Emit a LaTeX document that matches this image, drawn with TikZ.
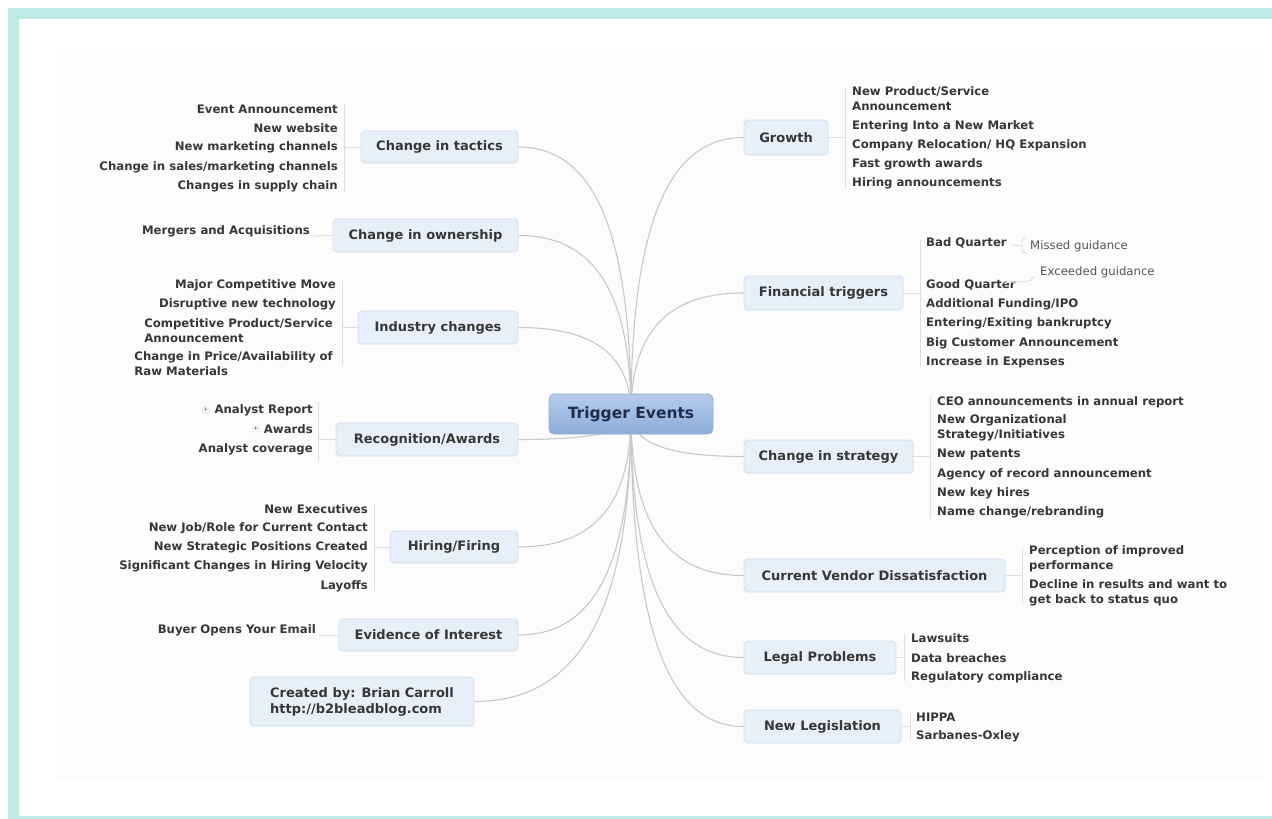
\documentclass[tikz,border=0pt]{standalone}
\usepackage{fontspec}
\setmainfont{DejaVu Sans}
\usetikzlibrary{calc,backgrounds}
\definecolor{teal0}{RGB}{190,234,228}
\definecolor{boxfill}{RGB}{231,239,249}
\definecolor{boxdraw}{RGB}{208,221,238}
\definecolor{txt}{RGB}{55,55,55}
\definecolor{subtxt}{RGB}{85,85,85}
\definecolor{connc}{RGB}{200,200,200}
\definecolor{brkc}{RGB}{222,222,222}
\definecolor{ctop}{RGB}{182,204,236}
\definecolor{cbot}{RGB}{140,172,218}
\definecolor{cdraw}{RGB}{150,175,212}
\definecolor{ctxt}{RGB}{30,45,75}
\definecolor{faint}{RGB}{252,252,252}
\newcommand\leaffont{\fontsize{11.7}{15}\selectfont\bfseries}
\newcommand\mainnfont{\fontsize{13}{16}\selectfont\bfseries}
\newcommand\centerfont{\fontsize{15.5}{18}\selectfont\bfseries}
\newcommand\subfont{\fontsize{11.7}{15}\selectfont}
\newcommand\mmconn[2]{\draw[connline] (#1.center) .. controls ($(#1.center)!0.75!(#1.center|-#2)$) and ($(#2)!0.6!(#1.center|-#2)$) .. (#2);}
\tikzset{
  mainbox/.style={draw=boxdraw, fill=boxfill, rounded corners=4pt, line width=0.8pt,
    text=txt, font=\mainnfont, inner sep=0pt, align=center},
  leafL/.style={anchor=east, inner sep=0pt, text=txt, font=\leaffont, align=left},
  leafR/.style={anchor=west, inner sep=0pt, text=txt, font=\leaffont, align=left},
  subleaf/.style={anchor=west, inner sep=0pt, text=subtxt, font=\subfont},
  connline/.style={draw=connc, line width=1.1pt},
  brkline/.style={draw=brkc, line width=0.9pt, line cap=round},
  plusicon/.style={circle, draw=brkc, line width=0.6pt, minimum size=7pt, inner sep=0pt,
    font=\fontsize{6}{6}\selectfont, text=subtxt}
}
\begin{document}
\begin{tikzpicture}[x=1pt,y=-1pt]
\useasboundingbox (0,0) rectangle (1272,819);

% center
\node[draw=cdraw, top color=ctop, bottom color=cbot, rounded corners=5pt, line width=0.8pt,
  minimum width=164pt, minimum height=40pt, inner sep=0pt, text=ctxt, font=\centerfont]
  (te) at (631,414) {Trigger Events};

% main nodes left
\node[mainbox, minimum width=157pt, minimum height=32pt] (tac) at (439.5,147) {Change in tactics};
\node[mainbox, minimum width=185pt, minimum height=33pt] (own) at (425.5,235.5) {Change in ownership};
\node[mainbox, minimum width=160pt, minimum height=33pt] (ind) at (438,327.5) {Industry changes};
\node[mainbox, minimum width=182pt, minimum height=33pt] (rec) at (427,439.5) {Recognition/Awards};
\node[mainbox, minimum width=128pt, minimum height=32pt] (hir) at (454,547) {Hiring/Firing};
\node[mainbox, minimum width=179pt, minimum height=32pt] (evi) at (428.5,635) {Evidence of Interest};
\node[mainbox, minimum width=224pt, minimum height=49pt, align=left] (cre) at (362,701.5)
  {Created by: Brian Carroll\\http://b2bleadblog.com};
% main nodes right
\node[mainbox, minimum width=84pt, minimum height=35pt] (gro) at (786,137.5) {Growth};
\node[mainbox, minimum width=159pt, minimum height=34pt] (fin) at (823.5,293) {Financial triggers};
\node[mainbox, minimum width=169pt, minimum height=33pt] (str) at (828.5,456.5) {Change in strategy};
\node[mainbox, minimum width=261pt, minimum height=33pt] (ven) at (874.5,575.5) {Current Vendor Dissatisfaction};
\node[mainbox, minimum width=152pt, minimum height=33pt] (leg) at (820,657.5) {Legal Problems};
\node[mainbox, minimum width=157pt, minimum height=33pt] (lgs) at (822.5,726.5) {New Legislation};

% background and connectors from center (behind)
\begin{scope}[on background layer]
\fill[white] (0,0) rectangle (1272,819);
\fill[faint] (57,48) rectangle (1265,779);
\fill[teal0] (8,8) rectangle (1272,19);
\fill[teal0] (8,8) rectangle (19,819);
\fill[teal0] (8,816) rectangle (1272,819);
\mmconn{te}{tac.east}
\mmconn{te}{own.east}
\mmconn{te}{ind.east}
\mmconn{te}{rec.east}
\mmconn{te}{hir.east}
\mmconn{te}{evi.east}
\mmconn{te}{cre.east}
\mmconn{te}{gro.west}
\mmconn{te}{fin.west}
\mmconn{te}{str.west}
\mmconn{te}{ven.west}
\mmconn{te}{leg.west}
\mmconn{te}{lgs.west}
\end{scope}

% ---- leaves: Change in tactics
\node[leafL] (t1) at (338,109) {Event Announcement};
\node[leafL] (t2) at (338,128) {New website};
\node[leafL] (t3) at (338,147) {New marketing channels};
\node[leafL] (t4) at (338,167) {Change in sales/marketing channels};
\node[leafL] (t5) at (338,186) {Changes in supply chain};
\coordinate (tacb) at (344,147);
\draw[brkline] (344,104) -- (344,191);
\draw[brkline] (tac.west) -- (tacb);

% ownership
\node[leafL] (o1) at (310,231) {Mergers and Acquisitions};
\coordinate (ownb) at (313,236);
\draw[brkline] (own.west) -- (ownb);

% industry
\node[leafL] (i1) at (336,285) {Major Competitive Move};
\node[leafL] (i2) at (336,304) {Disruptive new technology};
\node[leafL] (i3) at (333,330.5) {Competitive Product/Service\\Announcement};
\node[leafL] (i4) at (333,363.5) {Change in Price/Availability of\\Raw Materials};
\coordinate (indb) at (342,327.5);
\draw[brkline] (342,281) -- (342,366);
\draw[brkline] (ind.west) -- (indb);

% recognition
\node[leafL] (r1) at (313,410) {Analyst Report};
\node[leafL] (r2) at (313,429) {Awards};
\node[leafL] (r3) at (313,449) {Analyst coverage};
\node[plusicon] (p1) at (206,410) {+};
\node[plusicon] (p2) at (256,429) {+};
\coordinate (recb) at (318,439.5);
\draw[brkline] (318,402) -- (318,462);
\draw[brkline] (rec.west) -- (recb);

% hiring
\node[leafL] (h1) at (368,509) {New Executives};
\node[leafL] (h2) at (368,528) {New Job/Role for Current Contact};
\node[leafL] (h3) at (368,547) {New Strategic Positions Created};
\node[leafL] (h4) at (368,566) {Significant Changes in Hiring Velocity};
\node[leafL] (h5) at (368,586) {Layoffs};
\coordinate (hirb) at (374,547);
\draw[brkline] (374,504) -- (374,591);
\draw[brkline] (hir.west) -- (hirb);

% evidence
\node[leafL] (e1) at (316,630) {Buyer Opens Your Email};
\coordinate (evib) at (319,635);
\draw[brkline] (evi.west) -- (evib);

% growth
\node[leafR] (g1) at (852,99) {New Product/Service\\Announcement};
\node[leafR] (g2) at (852,126) {Entering Into a New Market};
\node[leafR] (g3) at (852,145) {Company Relocation/ HQ Expansion};
\node[leafR] (g4) at (852,164) {Fast growth awards};
\node[leafR] (g5) at (852,183) {Hiring announcements};
\coordinate (grob) at (845,137.5);
\draw[brkline] (845,88) -- (845,188);
\draw[brkline] (gro.east) -- (grob);

% financial
\node[leafR] (f1) at (926,243) {Bad Quarter};
\node[leafR] (f2) at (926,285) {Good Quarter};
\node[leafR] (f3) at (926,304) {Additional Funding/IPO};
\node[leafR] (f4) at (926,323) {Entering/Exiting bankruptcy};
\node[leafR] (f5) at (926,343) {Big Customer Announcement};
\node[leafR] (f6) at (926,362) {Increase in Expenses};
\coordinate (finb) at (920,293);
\draw[brkline] (920,240) -- (920,367);
\draw[brkline] (fin.east) -- (finb);
\node[subleaf] (s1) at (1030,246) {Missed guidance};
\node[subleaf] (s2) at (1040,272) {Exceeded guidance};
\coordinate (s1b) at (1022,246);
\draw[brkline] (1012,245) -- (s1b);
\draw[brkline, rounded corners=3pt] (1026,238) -- (1022,238) -- (1022,253) -- (1026,253);
\coordinate (s2b) at (1034,276);
\draw[brkline, rounded corners=3pt] (1002,283) -- (1031,281) -- (s2b);

% strategy
\node[leafR] (c1) at (937,402) {CEO announcements in annual report};
\node[leafR] (c2) at (937,428) {New Organizational\\Strategy/Initiatives};
\node[leafR] (c3) at (937,454) {New patents};
\node[leafR] (c4) at (937,474) {Agency of record announcement};
\node[leafR] (c5) at (937,493) {New key hires};
\node[leafR] (c6) at (937,512) {Name change/rebranding};
\coordinate (strb) at (930,456.5);
\draw[brkline] (930,397) -- (930,518);
\draw[brkline] (str.east) -- (strb);

% vendor
\node[leafR] (v1) at (1029,558.5) {Perception of improved\\performance};
\node[leafR] (v2) at (1029,592.5) {Decline in results and want to\\get back to status quo};
\coordinate (venb) at (1022,575.5);
\draw[brkline] (1022,549) -- (1022,603);
\draw[brkline] (ven.east) -- (venb);

% legal
\node[leafR] (l1) at (911,638) {Lawsuits};
\node[leafR] (l2) at (911,658) {Data breaches};
\node[leafR] (l3) at (911,677) {Regulatory compliance};
\coordinate (legb) at (904,657.5);
\draw[brkline] (904,634) -- (904,681);
\draw[brkline] (leg.east) -- (legb);

% legislation
\node[leafR] (n1) at (916,717) {HIPPA};
\node[leafR] (n2) at (916,736) {Sarbanes-Oxley};
\coordinate (lgsb) at (910,726.5);
\draw[brkline] (910,713) -- (910,740);
\draw[brkline] (lgs.east) -- (lgsb);
\end{tikzpicture}
\end{document}
